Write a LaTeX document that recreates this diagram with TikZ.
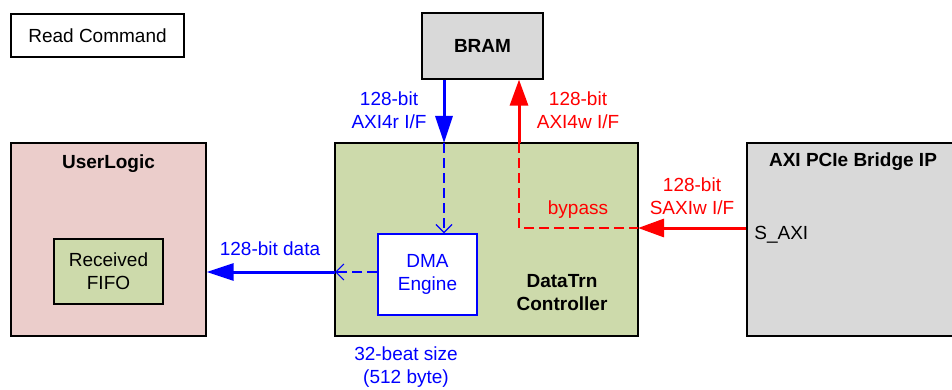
\documentclass[tikz,border=0pt]{standalone}
\usepackage{fontspec}
\setmainfont{Liberation Sans}
\usetikzlibrary{arrows.meta}
\definecolor{userpink}{RGB}{235,205,203}
\definecolor{ctrlgreen}{RGB}{205,218,171}
\definecolor{ipgray}{RGB}{217,217,217}

\begin{document}
\begin{tikzpicture}[x=0.5pt, y=-0.5pt,
  font=\fontsize{9.5}{11.5}\selectfont,
  box/.style={draw=black, line width=0.6pt, inner sep=0pt, align=center},
  lbl/.style={inner sep=0pt, align=center},
  rdbus/.style={blue, line width=1.5pt, -{Triangle[length=13.5pt,width=8.5pt]}},
  wrbus/.style={red, line width=1.5pt, -{Triangle[length=13pt,width=9pt]}},
  rddash/.style={blue, line width=0.6pt, dash pattern=on 5pt off 2.5pt, -{Straight Barb[length=4pt,width=8pt]}},
  wrdash/.style={red, line width=0.6pt, dash pattern=on 5pt off 2.5pt}]
\useasboundingbox (0,0) rectangle (952,390);
\clip (0,0) rectangle (952,390);

\node[box, fill=white, minimum width=86.5pt, minimum height=21.5pt] (cmd) at (97.5,35.5) {Read Command};
\node[box, fill=userpink, minimum width=97.5pt, minimum height=96.5pt] (user) at (108.5,239.5) {};
\node[lbl, font=\fontsize{9.5}{11.5}\selectfont\bfseries] (usert) at (108.5,164) {UserLogic};
\node[box, fill=ctrlgreen, minimum width=54.5pt, minimum height=32.5pt] (fifo) at (108.5,271.5) {Received\\FIFO};
\node[box, fill=ipgray, minimum width=60.5pt, minimum height=33pt, font=\fontsize{9.5}{11.5}\selectfont\bfseries] (bram) at (482.5,46) {BRAM};
\node[box, fill=ctrlgreen, minimum width=151.5pt, minimum height=96.5pt] (ctrl) at (486.5,239.5) {};
\node[lbl, font=\fontsize{9.5}{11.5}\selectfont\bfseries] (ctrlt) at (562,293) {DataTrn\\Controller};
\node[box, draw=blue, text=blue, fill=white, line width=0.7pt, minimum width=49.5pt, minimum height=40.5pt] (dma) at (427.5,274.5) {DMA\\Engine};
\node[box, fill=ipgray, minimum width=109pt, minimum height=96.5pt] (pcie) at (856,239.5) {};
\node[lbl, font=\fontsize{9.5}{11.5}\selectfont\bfseries] (pciet) at (853,162) {AXI PCIe Bridge IP};
\node[lbl, anchor=west] (saxi) at (754,235) {S\_AXI};

\coordinate (rd) at (444,143);
\coordinate (dl) at (335,272);
\coordinate (wr) at (519,143);
\coordinate (bp) at (638,228);

\draw[rdbus] (bram.south -| rd) -- (rd);
\draw[rddash] (rd) -- (rd |- dma.north);
\draw[rddash] (dma.west |- dl) -- (dl);
\draw[rdbus] (dl) -- (user.east |- dl);
\draw[wrbus] (wr) -- (wr |- bram.south);
\draw[wrdash] (wr) |- (bp);
\draw[wrbus] (pcie.west |- bp) -- (bp);

\node[lbl, text=blue] (rdl) at (389,110) {128-bit\\AXI4r I/F};
\node[lbl, text=red] (wrl) at (578,110) {128-bit\\AXI4w I/F};
\node[lbl, text=red] (bpl) at (578,210) {bypass};
\node[lbl, text=red] (saxil) at (692,196) {128-bit\\SAXIw I/F};
\node[lbl, text=blue] (datal) at (270,249) {128-bit data};
\node[lbl, text=blue] (beatl) at (406,367) {32-beat size\\(512 byte)};
\end{tikzpicture}
\end{document}
